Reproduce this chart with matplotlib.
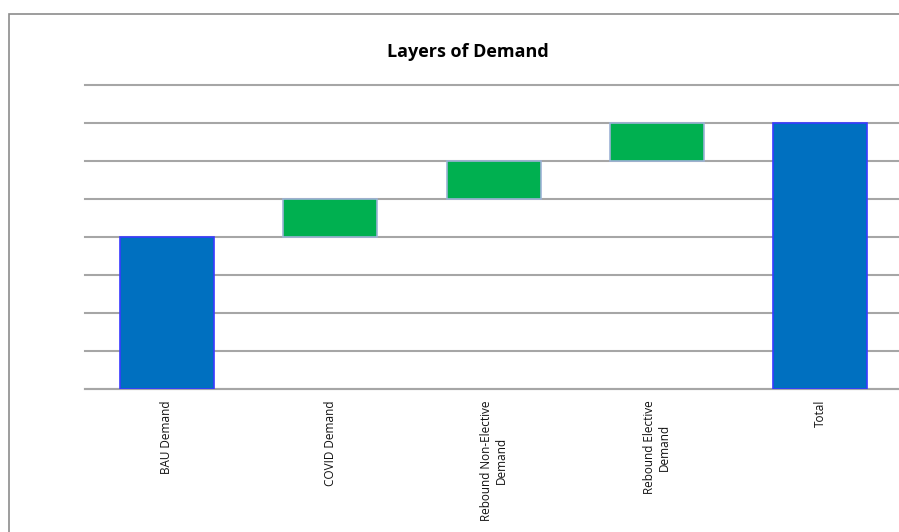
import matplotlib.pyplot as plt
from matplotlib.patches import Rectangle
import numpy as np

categories = ["BAU Demand", "COVID Demand", "Rebound Non-Elective\nDemand",
              "Rebound Elective\nDemand", "Total"]
increments = [4, 1, 1, 1]
total = 7

# floating bars: each step starts where the previous one ended
bottoms = list(np.concatenate([[0], np.cumsum(increments)[:-1]])) + [0]
heights = increments + [total]
colors = ["#0070C0", "#00B050", "#00B050", "#00B050", "#0070C0"]
edges = ["#3A3AFF", "#9DB3D6", "#9DB3D6", "#9DB3D6", "#3A3AFF"]

plt.rcParams['font.family'] = ['Open Sans', 'DejaVu Sans']

fig = plt.figure(figsize=(8.99, 5.32), dpi=100)
ax = fig.add_axes([85.3 / 899, 1 - 389 / 532, 816.7 / 899, 304 / 532])

x = np.arange(len(categories))
ax.bar(x, heights, bottom=bottoms, width=0.575, color=colors,
       edgecolor=edges, linewidth=1.2, zorder=3)

ax.set_xlim(-0.5, 4.5)
ax.set_ylim(0, 8)
ax.set_yticks(range(0, 9))
ax.set_yticklabels([])
ax.tick_params(axis='y', length=0)
ax.grid(axis='y', color='#A6A6A6', linewidth=1.5, zorder=0)
for gl in ax.get_ygridlines():
    gl.set_clip_on(False)
ax.set_axisbelow(True)
for s in ['left', 'right', 'top']:
    ax.spines[s].set_visible(False)
ax.spines['bottom'].set_color('#A6A6A6')
ax.spines['bottom'].set_linewidth(1.5)

ax.set_xticks(x)
ax.set_xticklabels(categories, rotation=90, fontsize=8.5, ha='center',
                   va='top', multialignment='center', color='#111111')
ax.tick_params(axis='x', length=0, pad=8)

fig.text(468 / 899, 1 - 52 / 532, "Layers of Demand", ha='center',
         va='center', fontsize=13, fontweight='bold')

# outer chart frame
fig.add_artist(Rectangle((8.5 / 899, -0.1), 1.2, 1.1 - 13.5 / 532,
                         transform=fig.transFigure, fill=False,
                         edgecolor='#8C8C8C', linewidth=1.2, clip_on=False))

fig.savefig("out.png", dpi=100)
